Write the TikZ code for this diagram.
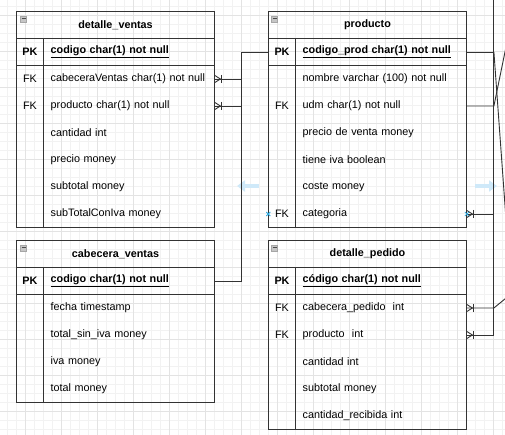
\documentclass[tikz,border=0pt]{standalone}
\usepackage{fontspec}
\setmainfont{Liberation Sans}
\usepackage{tikz}
\usetikzlibrary{arrows.meta}

\newcommand{\erfont}{\fontsize{10.8}{13}\selectfont}
\definecolor{edgec}{HTML}{333333}
\definecolor{hintc}{HTML}{CFE9F9}
\definecolor{markc}{HTML}{29A8E0}

\tikzset{
  gridminor/.style={black!5, line width=0.6pt},
  gridmajor/.style={black!11, line width=0.6pt},
  tbl/.style={draw=edgec, line width=0.9pt},
  icon/.style={draw=gray!70, fill=gray!45, line width=0.5pt},
  iconbar/.style={black!70, line width=1pt},
  hdr/.style={font=\erfont\bfseries, inner sep=0pt},
  key/.style={minimum width=27pt, minimum height=27pt, inner sep=0pt, font=\erfont},
  fld/.style={anchor=west, text width=157pt, align=left, inner xsep=7pt, inner ysep=0pt, minimum height=27pt, font=\erfont},
  conn/.style={draw=edgec, line width=0.9pt},
  hint/.style={hintc, line width=4.5pt, -{Triangle[length=8pt,width=11pt]}},
  crowfoot/.pic={
    \draw[conn] (0,-3.5) -- (5.5,0) -- (0,3.5);
    \draw[conn] (6.5,-4) -- (6.5,4);
  },
  hitmark/.pic={
    \draw[markc, line width=0.8pt] (-2,-2) -- (2,2) (-2,2) -- (2,-2);
  }
}

\begin{document}
\begin{tikzpicture}[x=1pt, y=-1pt]
\useasboundingbox (0,0) rectangle (505,435);
\clip (0,0) rectangle (505,435);
\fill[white] (0,0) rectangle (505,435);
\foreach \gx in {7.5,16.5,...,505} \draw[gridminor] (\gx,0) -- (\gx,435);
\foreach \gy in {6.5,15.5,...,435} \draw[gridminor] (0,\gy) -- (505,\gy);
\foreach \gx in {25.5,61.5,...,505} \draw[gridmajor] (\gx,0) -- (\gx,435);
\foreach \gy in {15.5,51.5,...,435} \draw[gridmajor] (0,\gy) -- (505,\gy);

\draw[hint] (259,186) -- (237,186);
\draw[hint] (475,186) -- (497,186);

\draw[tbl] (16.5,11.5) rectangle (214.5,227.5);
\draw[tbl] (16.5,38.5) -- (214.5,38.5);
\draw[tbl] (16.5,65.5) -- (214.5,65.5);
\draw[tbl] (43.5,38.5) -- (43.5,227.5);
\draw[icon] (20.5,16) rectangle (26.5,22);
\draw[iconbar] (21.5,19) -- (25.5,19);
\node[hdr] (dvhead) at (115.5,25) {detalle\_ventas};
\node[key] (dvk0) at (30,52) {\textbf{PK}};
\node[fld] (dvpk) at (43.5,52) {\underline{\textbf{codigo char(1) not null}}};
\node[key] (dvk1) at (30,79) {FK};
\node[fld] (dvcab) at (43.5,79) {cabeceraVentas char(1) not null};
\node[key] (dvk2) at (30,106) {FK};
\node[fld] (dvprod) at (43.5,106) {producto char(1) not null};
\node[fld] (dvcant) at (43.5,133) {cantidad int};
\node[fld] (dvprec) at (43.5,160) {precio money};
\node[fld] (dvsub) at (43.5,187) {subtotal money};
\node[fld] (dvsubiva) at (43.5,214) {subTotalConIva money};

\draw[tbl] (268.5,11.5) rectangle (466.5,227.5);
\draw[tbl] (268.5,38.5) -- (466.5,38.5);
\draw[tbl] (268.5,65.5) -- (466.5,65.5);
\draw[tbl] (295.5,38.5) -- (295.5,227.5);
\draw[icon] (271.5,16) rectangle (277.5,22);
\draw[iconbar] (272.5,19) -- (276.5,19);
\node[hdr] (prhead) at (367.5,25) {producto};
\node[key] (prk0) at (282,52) {\textbf{PK}};
\node[fld] (prpk) at (295.5,52) {\underline{\textbf{codigo\_prod char(1) not null}}};
\node[fld] (prnom) at (295.5,79) {nombre varchar (100) not null};
\node[key] (prk2) at (282,106) {FK};
\node[fld] (prudm) at (295.5,106) {udm char(1) not null};
\node[fld] (prprec) at (295.5,133) {precio de venta money};
\node[fld] (priva) at (295.5,160) {tiene iva boolean};
\node[fld] (prcoste) at (295.5,187) {coste money};
\node[key] (prk6) at (282,214) {FK};
\node[fld] (prcat) at (295.5,214) {categoria};

\draw[tbl] (16.5,240.5) rectangle (214.5,402.5);
\draw[tbl] (16.5,267.5) -- (214.5,267.5);
\draw[tbl] (16.5,294.5) -- (214.5,294.5);
\draw[tbl] (43.5,267.5) -- (43.5,402.5);
\draw[icon] (20.5,245) rectangle (26.5,251);
\draw[iconbar] (21.5,248) -- (25.5,248);
\node[hdr] (cvhead) at (115.5,254) {cabecera\_ventas};
\node[key] (cvk0) at (30,281) {\textbf{PK}};
\node[fld] (cvpk) at (43.5,281) {\underline{\textbf{codigo char(1) not null}}};
\node[fld] (cvfecha) at (43.5,308) {fecha timestamp};
\node[fld] (cvsin) at (43.5,335) {total\_sin\_iva money};
\node[fld] (cviva) at (43.5,362) {iva money};
\node[fld] (cvtotal) at (43.5,389) {total money};

\draw[tbl] (268.5,240.5) rectangle (466.5,429.5);
\draw[tbl] (268.5,267.5) -- (466.5,267.5);
\draw[tbl] (268.5,294.5) -- (466.5,294.5);
\draw[tbl] (295.5,267.5) -- (295.5,429.5);
\draw[icon] (271.5,245) rectangle (277.5,251);
\draw[iconbar] (272.5,248) -- (276.5,248);
\node[hdr] (dphead) at (367.5,254) {detalle\_pedido};
\node[key] (dpk0) at (282,281) {\textbf{PK}};
\node[fld] (dppk) at (295.5,281) {\underline{\textbf{código char(1) not null}}};
\node[key] (dpk1) at (282,308) {FK};
\node[fld] (dpcab) at (295.5,308) {cabecera\_pedido\ \ int};
\node[key] (dpk2) at (282,335) {FK};
\node[fld] (dpprod) at (295.5,335) {producto\ \ int};
\node[fld] (dpcant) at (295.5,362) {cantidad int};
\node[fld] (dpsub) at (295.5,389) {subtotal money};
\node[fld] (dprec) at (295.5,416) {cantidad\_recibida int};

\draw[conn] (cvpk.east) -- ++(27,0) |- (dvcab.east);
\draw[conn] (prk0.west) -- ++(-27,0) |- (dvprod.east);
\pic at (dvcab.east) {crowfoot};
\pic at (dvprod.east) {crowfoot};

\coordinate (offtop) at (493.5,-5);
\draw[conn] (prcat.east) -| (offtop);
\draw[conn] (prpk.east) -- ++(27,0) |- (dpprod.east);
\draw[conn] (prpk.east) ++(27,0) -- ++(12,166);
\draw[conn] (prudm.east) -- ++(27,0) -- ++(17,-83);
\draw[conn] (dpcab.east) -- ++(27,0) -- ++(14,-11.5);
\pic at (prcat.east) {crowfoot};
\pic at (dpcab.east) {crowfoot};
\pic at (dpprod.east) {crowfoot};
\pic at (prcat.east) {hitmark};
\pic at (prk6.west) {hitmark};
\end{tikzpicture}
\end{document}
